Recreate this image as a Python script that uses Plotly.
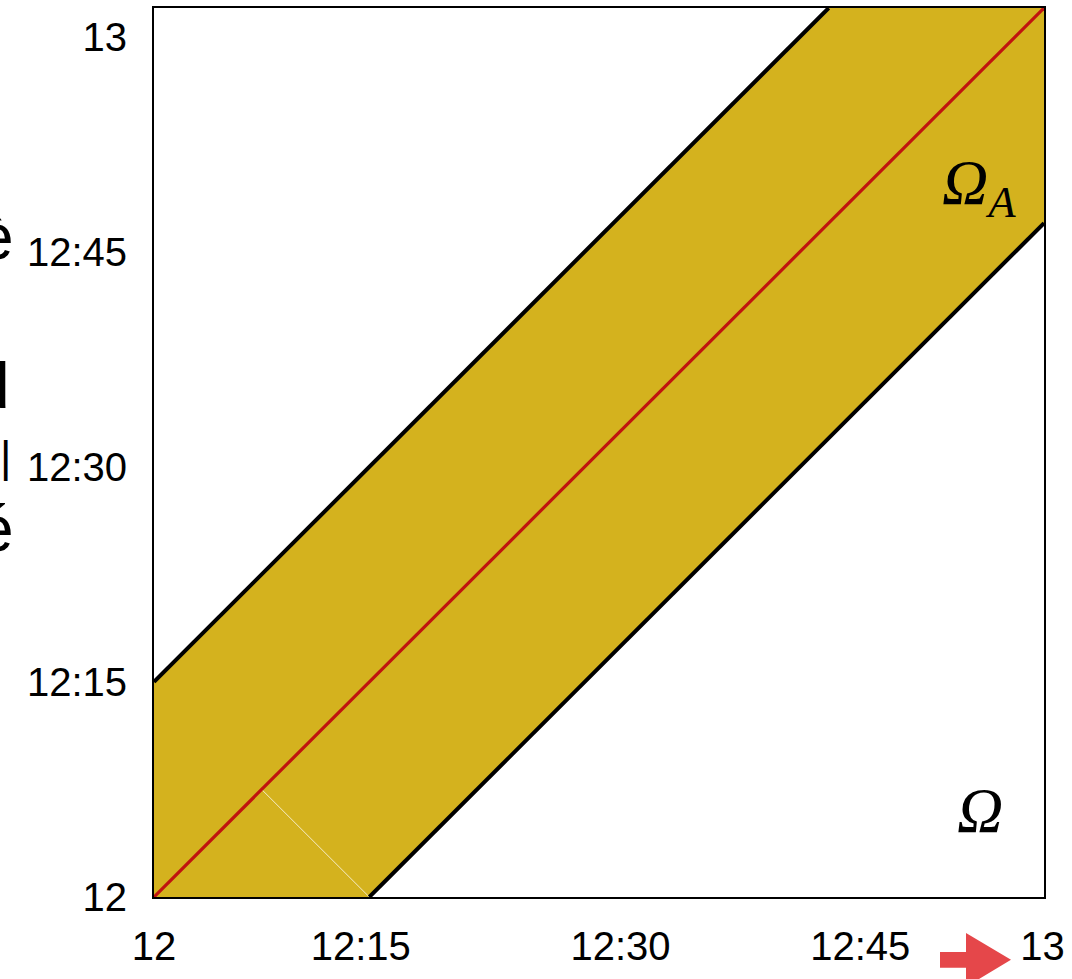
import plotly.graph_objects as go

# ---- data (minutes after 12:00) ----
AXIS_MAX = 62
BAND_HALF = 15
X_TICK_MIN = [0, 14.4, 32.5, 49.2, 61.9]
Y_TICK_MIN = [0, 15, 30, 45, 60]
TICK_TEXT = ["12", "12:15", "12:30", "12:45", "13"]

# band region Omega_A : |x - y| <= BAND_HALF
band_x = [0, 0, AXIS_MAX - BAND_HALF, AXIS_MAX, AXIS_MAX, BAND_HALF, 0]
band_y = [0, BAND_HALF, AXIS_MAX, AXIS_MAX, AXIS_MAX - BAND_HALF, 0, 0]
upper_x = [0, AXIS_MAX - BAND_HALF]
upper_y = [BAND_HALF, AXIS_MAX]
lower_x = [BAND_HALF, AXIS_MAX]
lower_y = [0, AXIS_MAX - BAND_HALF]
diag_x = [0, AXIS_MAX]
diag_y = [0, AXIS_MAX]
seam_x = [BAND_HALF / 2, BAND_HALF]
seam_y = [BAND_HALF / 2, 0]

GOLD = "#D4B21E"
RED = "#C0140F"

fig = go.Figure()
fig.add_trace(go.Scatter(x=band_x, y=band_y, mode="lines", fill="toself",
                         fillcolor=GOLD, line=dict(width=0), hoverinfo="skip"))
fig.add_trace(go.Scatter(x=seam_x, y=seam_y, mode="lines",
                         line=dict(color="rgba(255,255,255,0.75)", width=1), hoverinfo="skip"))
fig.add_trace(go.Scatter(x=diag_x, y=diag_y, mode="lines",
                         line=dict(color=RED, width=3.2), hoverinfo="skip"))
fig.add_trace(go.Scatter(x=upper_x, y=upper_y, mode="lines",
                         line=dict(color="black", width=4), hoverinfo="skip"))
fig.add_trace(go.Scatter(x=lower_x, y=lower_y, mode="lines",
                         line=dict(color="black", width=4), hoverinfo="skip"))

L, R, T, B = 154, 28, 6, 82
W, H = 1072, 979
PW, PH = W - L - R, H - T - B


def px(xp):
    return (xp - L) / PW


def py(yp):
    return (H - B - yp) / PH


tick_font = dict(family="Liberation Sans, Arial, sans-serif", size=40, color="black")
fig.update_xaxes(range=[0, AXIS_MAX], tickvals=X_TICK_MIN, ticktext=TICK_TEXT,
                 showgrid=False, zeroline=False, showline=True, mirror=True,
                 linecolor="black", linewidth=2, ticks="", tickfont=tick_font,
                 ticklabelstandoff=13, layer="below traces")
fig.update_yaxes(range=[0, AXIS_MAX], tickvals=Y_TICK_MIN, ticktext=TICK_TEXT,
                 showgrid=False, zeroline=False, showline=True, mirror=True,
                 linecolor="black", linewidth=2, ticks="", tickfont=tick_font,
                 ticklabelstandoff=17, layer="below traces")

serif = dict(family="Liberation Serif, Times New Roman, serif", size=64, color="black")
fig.add_annotation(xref="paper", yref="paper", x=px(979), y=py(185),
                   text="<i>Ω</i><sub><i>A</i></sub>", showarrow=False, font=serif,
                   xanchor="center", yanchor="middle")
fig.add_annotation(xref="paper", yref="paper", x=px(980), y=py(810),
                   text="<i>Ω</i>", showarrow=False, font=serif,
                   xanchor="center", yanchor="middle")

# cropped vertical title glyphs at the left edge
side_font = dict(family="Liberation Sans, Arial, sans-serif", size=64, color="black")
for ch, xr, yc, fs in [("è", 16, 236, 64), ("d", 12, 385, 64), ("|", 13, 456, 44), ("é", 16, 528, 64)]:
    fig.add_annotation(xref="paper", yref="paper", x=px(xr), y=py(yc), text=ch,
                       showarrow=False, font=dict(side_font, size=fs),
                       xanchor="right", yanchor="middle")

# red arrow bottom right
arrow_path = "M {} {} L {} {} L {} {} L {} {} L {} {} L {} {} L {} {} Z".format(
    px(940), py(952), px(966), py(952), px(966), py(933), px(1011), py(960),
    px(966), py(987), px(966), py(968), px(940), py(968))
fig.add_shape(type="path", xref="paper", yref="paper", path=arrow_path,
              fillcolor="#E5474A", line=dict(width=0), layer="above")

fig.update_layout(width=W, height=H, margin=dict(l=L, r=R, t=T, b=B),
                  plot_bgcolor="white", paper_bgcolor="white", showlegend=False)

fig.write_html("out.html", config={"displayModeBar": False},
               post_script="document.body.style.margin='0';document.body.style.overflow='hidden';")
